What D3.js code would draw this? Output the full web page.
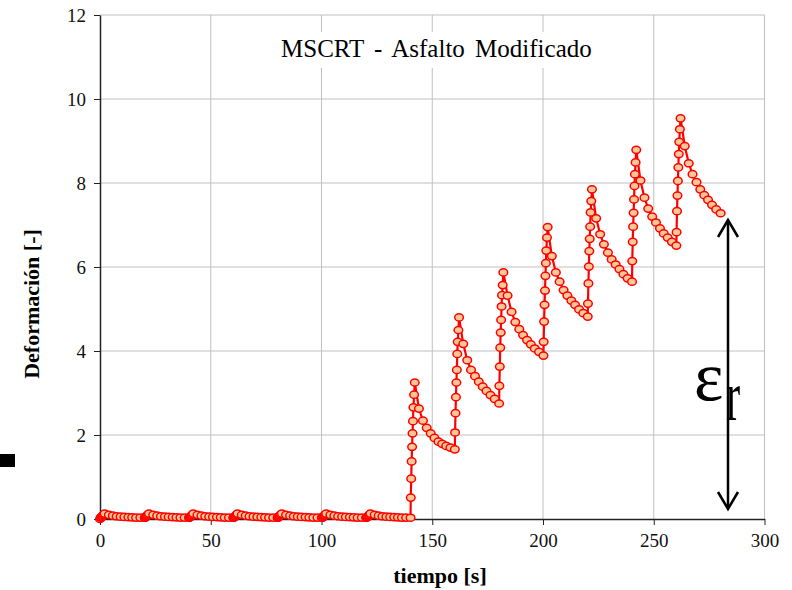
<!DOCTYPE html>
<html>
<head>
<meta charset="utf-8">
<script src="https://cdn.jsdelivr.net/npm/d3@7"></script>
<style>
  body { margin: 0; background: #fff; }
  svg { display: block; }
  text { font-family: "Liberation Serif", "Times New Roman", serif; }
</style>
</head>
<body>
<svg id="chart" width="792" height="590"></svg>
<script>
// cycle start times [s]
const cycleStarts = [0, 20, 40, 60, 80, 100, 120, 140, 160, 180, 200, 220, 240, 260];

// time offsets inside a cycle (loading, then recovery)
const loadOffsets = [0.3, 0.5, 0.7, 0.9, 1.1, 1.3, 1.5, 1.8, 2.1];
const creepOffsets = [4.0, 5.8, 7.5, 9.3, 11.0, 12.8, 14.5, 16.3, 18.2, 20.2];

// low stress cycles (0 - 120 s) look alike
const earlyLoad = [0.03, 0.04, 0.05, 0.06, 0.07, 0.08, 0.09, 0.11, 0.13];
const earlyCreep = [0.10, 0.08, 0.065, 0.055, 0.05, 0.045, 0.04, 0.035, 0.035, 0.03];

// high stress cycles 140 .. 260 s
const loadHigh = [
  [0.51, 0.96, 1.37, 1.72, 2.04, 2.33, 2.66, 2.96, 3.25],
  [2.06, 2.52, 2.90, 3.25, 3.55, 3.93, 4.22, 4.50, 4.80],
  [3.17, 3.63, 4.08, 4.44, 4.74, 5.06, 5.33, 5.57, 5.87],
  [4.22, 4.70, 5.10, 5.44, 5.79, 6.09, 6.39, 6.70, 6.95],
  [5.13, 5.61, 6.01, 6.38, 6.67, 6.96, 7.30, 7.57, 7.85],
  [6.14, 6.60, 6.96, 7.29, 7.61, 7.93, 8.21, 8.49, 8.79],
  [6.83, 7.33, 7.70, 8.05, 8.37, 8.69, 8.98, 9.28, 9.54]
];
const creepHigh = [
  [2.63, 2.34, 2.17, 2.04, 1.93, 1.84, 1.79, 1.74, 1.70, 1.66],
  [4.17, 3.78, 3.55, 3.40, 3.27, 3.15, 3.05, 2.95, 2.86, 2.75],
  [5.32, 4.93, 4.69, 4.52, 4.38, 4.26, 4.16, 4.06, 3.98, 3.89],
  [6.26, 5.87, 5.65, 5.45, 5.32, 5.20, 5.10, 4.99, 4.90, 4.82],
  [7.16, 6.78, 6.54, 6.34, 6.18, 6.06, 5.95, 5.83, 5.73, 5.65],
  [8.06, 7.65, 7.39, 7.20, 7.06, 6.92, 6.80, 6.70, 6.60, 6.51],
  [8.88, 8.47, 8.21, 8.02, 7.85, 7.71, 7.60, 7.48, 7.37, 7.28]
];

const xTicks = [0, 50, 100, 150, 200, 250, 300];
const yTicks = [0, 2, 4, 6, 8, 10, 12];

// build the series
let points = [[0, 0]];
cycleStarts.forEach((t0, i) => {
  let ld = i < 7 ? earlyLoad : loadHigh[i - 7];
  let cr = i < 7 ? earlyCreep : creepHigh[i - 7];
  loadOffsets.forEach((dt, j) => points.push([t0 + dt, ld[j]]));
  creepOffsets.forEach((dt, j) => points.push([t0 + dt, cr[j]]));
});

const svg = d3.select("#chart");
const x = d3.scaleLinear().domain([0, 300]).range([100, 764.5]);
const y = d3.scaleLinear().domain([0, 12]).range([519, 15]);

// grid
svg.append("g").selectAll("line")
   .data(xTicks.slice(1))
   .enter().append("line")
   .attr("x1", d => x(d)).attr("x2", d => x(d))
   .attr("y1", y(12)).attr("y2", y(0))
   .attr("stroke", "#c0c0c0").attr("stroke-width", 1);
svg.append("g").selectAll("line")
   .data(yTicks.slice(1))
   .enter().append("line")
   .attr("x1", x(0)).attr("x2", x(300))
   .attr("y1", d => y(d)).attr("y2", d => y(d))
   .attr("stroke", "#c0c0c0").attr("stroke-width", 1);

// title with white box over the grid
svg.append("rect").attr("x", 274).attr("y", 32).attr("width", 342).attr("height", 36).attr("fill", "#fff");
svg.append("text")
   .attr("x", 281).attr("y", 57)
   .attr("font-size", 25)
   .attr("word-spacing", 4)
   .text("MSCRT - Asfalto  Modificado");

// axes
let xAxis = svg.append("g")
   .attr("transform", `translate(0,${y(0)})`)
   .call(d3.axisBottom(x).tickValues(xTicks).tickSize(6).tickSizeOuter(0).tickPadding(9));
let yAxis = svg.append("g")
   .attr("transform", `translate(${x(0)},0)`)
   .call(d3.axisLeft(y).tickValues(yTicks).tickSize(6).tickSizeOuter(0).tickPadding(8));
[xAxis, yAxis].forEach(a => {
  a.select(".domain").attr("stroke", "#222").attr("stroke-width", 1.5);
  a.selectAll(".tick line").attr("stroke", "#222");
  a.selectAll(".tick text")
   .attr("font-family", "Liberation Serif, serif")
   .attr("font-size", 19).attr("fill", "#111");
});

// axis titles
svg.append("text")
   .attr("x", 440).attr("y", 583)
   .attr("text-anchor", "middle")
   .attr("font-size", 22).attr("font-weight", "bold")
   .text("tiempo [s]");
svg.append("text")
   .attr("transform", "translate(39,304) rotate(-90)")
   .attr("text-anchor", "middle")
   .attr("font-size", 22).attr("font-weight", "bold")
   .text("Deformación [-]");

// the series
let line = d3.line().x(d => x(d[0])).y(d => y(d[1]));
svg.append("path")
   .datum(points)
   .attr("d", line)
   .attr("fill", "none")
   .attr("stroke", "#ff0000")
   .attr("stroke-width", 2.2);
svg.append("g").selectAll("ellipse")
   .data(points)
   .enter().append("ellipse")
   .attr("cx", d => x(d[0])).attr("cy", d => y(d[1]))
   .attr("rx", 4.3).attr("ry", 3.6)
   .attr("fill", "#ffc896")
   .attr("stroke", "#ff0000")
   .attr("stroke-width", 1.5);

// residual strain arrow
let arrX = 728, arrTop = 220, arrBot = 509;
svg.append("line").attr("x1", arrX).attr("x2", arrX).attr("y1", arrTop).attr("y2", arrBot)
   .attr("stroke", "#000").attr("stroke-width", 2.5);
svg.append("path")
   .attr("d", `M${arrX - 10},${arrTop + 17}L${arrX},${arrTop}L${arrX + 10},${arrTop + 17}`)
   .attr("fill", "none").attr("stroke", "#000").attr("stroke-width", 2.5);
svg.append("path")
   .attr("d", `M${arrX - 10},${arrBot - 17}L${arrX},${arrBot}L${arrX + 10},${arrBot - 17}`)
   .attr("fill", "none").attr("stroke", "#000").attr("stroke-width", 2.5);
svg.append("text").attr("x", 694).attr("y", 400).attr("font-size", 70).text("ε");
svg.append("text").attr("transform", "translate(726,420) scale(0.85,1.45)")
   .attr("font-size", 50).text("r");

// small dark mark at the left edge
svg.append("rect").attr("x", 0).attr("y", 454).attr("width", 15).attr("height", 13).attr("fill", "#000");
</script>
</body>
</html>
